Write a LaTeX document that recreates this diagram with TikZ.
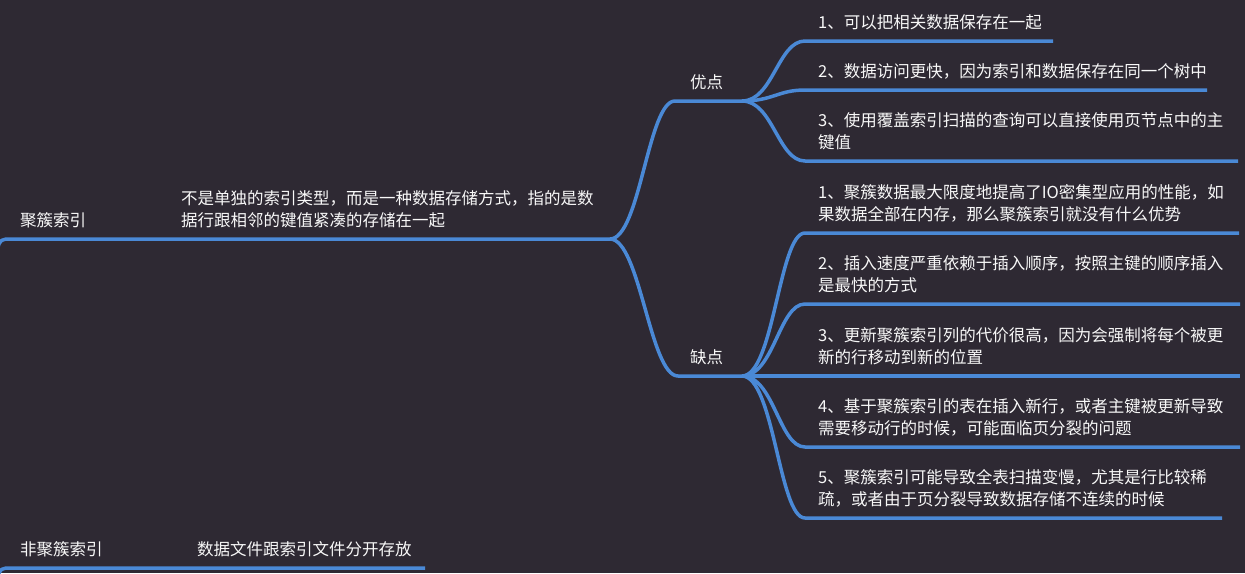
\documentclass[tikz,border=0pt]{standalone}
\usepackage{fontspec}
\setmainfont{Noto Sans CJK SC}
\definecolor{bgc}{RGB}{46,41,51}
\definecolor{lnc}{RGB}{74,137,214}
\definecolor{txc}{RGB}{248,248,248}
\tikzset{
  branch/.style={draw=lnc, line width=3.5pt, line join=round},
  txt/.style={text=txc, font=\fontsize{16.5}{21.5}\selectfont, inner sep=0pt, anchor=south west, align=left}
}
\begin{document}
\begin{tikzpicture}[x=1pt,y=-1pt]
\fill[bgc] (0,0) rectangle (1245,573);
\useasboundingbox (0,0) rectangle (1245,573);

% ---------- coordinates of the underlines ----------
\coordinate (r-in) at (-2,247);
\coordinate (r-a) at (10,239);
\coordinate (r-b) at (610,239);
\coordinate (n-in) at (-2,576);
\coordinate (n-a) at (10,568);
\coordinate (n-b) at (425,568);
\coordinate (pro-a) at (675,101);
\coordinate (pro-b) at (742,101);
\coordinate (con-a) at (678,376);
\coordinate (con-b) at (742,376);
\coordinate (p1-a) at (805,41);   \coordinate (p1-b) at (1053,41);
\coordinate (p2-a) at (805,90);   \coordinate (p2-b) at (1207,90);
\coordinate (p3-a) at (805,161);  \coordinate (p3-b) at (1238,161);
\coordinate (c1-a) at (805,233);  \coordinate (c1-b) at (1239,233);
\coordinate (c2-a) at (805,304);  \coordinate (c2-b) at (1240,304);
\coordinate (c3-b) at (1240,376);
\coordinate (c4-a) at (805,447);  \coordinate (c4-b) at (1240,447);
\coordinate (c5-a) at (805,518);  \coordinate (c5-b) at (1222,518);

% ---------- texts ----------
\node[txt] (root) at (20,233) {\strut 聚簇索引};
\node[txt] (rootd) at (181,233) {\strut 不是单独的索引类型，而是一种数据存储方式，指的是数\\\strut 据行跟相邻的键值紧凑的存储在一起};
\node[txt] (pro) at (690,95.5) {\strut 优点};
\node[txt] (con) at (690,370.5) {\strut 缺点};
\node[txt] (p1) at (818,35) {\strut 1、可以把相关数据保存在一起};
\node[txt] (p2) at (818,84) {\strut 2、数据访问更快，因为索引和数据保存在同一个树中};
\node[txt] (p3) at (818,155) {\strut 3、使用覆盖索引扫描的查询可以直接使用页节点中的主\\\strut 键值};
\node[txt] (c1) at (818,227) {\strut 1、聚簇数据最大限度地提高了IO密集型应用的性能，如\\\strut 果数据全部在内存，那么聚簇索引就没有什么优势};
\node[txt] (c2) at (818,298) {\strut 2、插入速度严重依赖于插入顺序，按照主键的顺序插入\\\strut 是最快的方式};
\node[txt] (c3) at (818,370) {\strut 3、更新聚簇索引列的代价很高，因为会强制将每个被更\\\strut 新的行移动到新的位置};
\node[txt] (c4) at (818,441) {\strut 4、基于聚簇索引的表在插入新行，或者主键被更新导致\\\strut 需要移动行的时候，可能面临页分裂的问题};
\node[txt] (c5) at (818,512) {\strut 5、聚簇索引可能导致全表扫描变慢，尤其是行比较稀\\\strut 疏，或者由于页分裂导致数据存储不连续的时候};
\node[txt] (non) at (20,562) {\strut 非聚簇索引};
\node[txt] (nond) at (197,562) {\strut 数据文件跟索引文件分开存放};

% ---------- connectors ----------
\draw[branch] (r-in) .. controls (0,240) and (2,239) .. (r-a) -- (r-b);
\draw[branch] (n-in) .. controls (0,569) and (2,568) .. (n-a) -- (n-b);
\draw[branch] (r-b) .. controls (640,239) and (648,101) .. (pro-a) -- (pro-b);
\draw[branch] (r-b) .. controls (640,239) and (650,376) .. (con-a) -- (con-b);

\draw[branch] (pro-b) .. controls (773,101) and (778,41) .. (p1-a) -- (p1-b);
\draw[branch] (pro-b) .. controls (773,101) and (778,90) .. (p2-a) -- (p2-b);
\draw[branch] (pro-b) .. controls (773,101) and (778,161) .. (p3-a) -- (p3-b);

\draw[branch] (con-b) .. controls (774,376) and (779,233) .. (c1-a) -- (c1-b);
\draw[branch] (con-b) .. controls (774,376) and (779,304) .. (c2-a) -- (c2-b);
\draw[branch] (con-b) -- (c3-b);
\draw[branch] (con-b) .. controls (774,376) and (779,447) .. (c4-a) -- (c4-b);
\draw[branch] (con-b) .. controls (774,376) and (779,518) .. (c5-a) -- (c5-b);
\end{tikzpicture}
\end{document}
